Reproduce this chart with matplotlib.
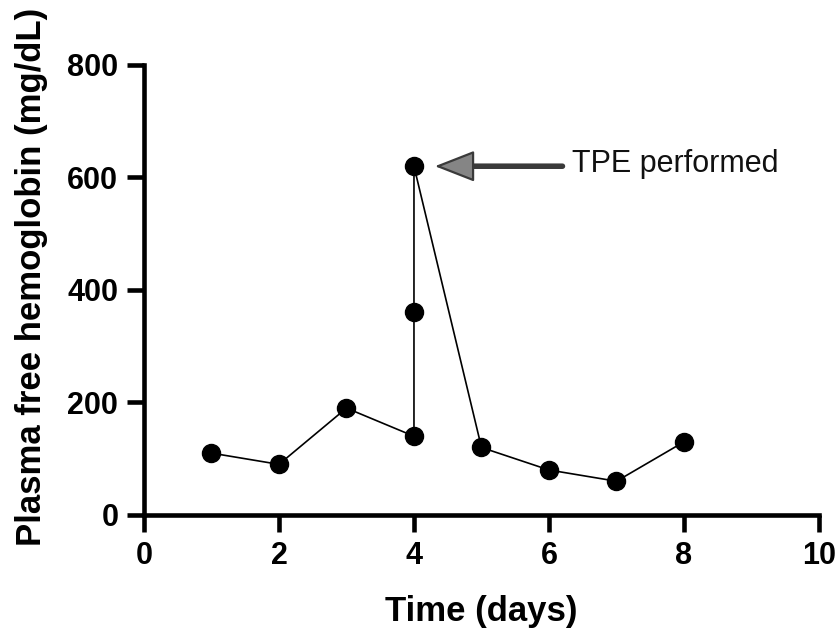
import numpy as np
import matplotlib
matplotlib.use('Agg')
import matplotlib.pyplot as plt

plt.rcParams['font.family'] = ['Liberation Sans', 'DejaVu Sans']

# dias y hemoglobina libre en plasma (mg/dL)
dias = [1, 2, 3, 4, 4, 4, 5, 6, 7, 8]
hb = [110, 90, 190, 140, 360, 620, 120, 80, 60, 130]

x_ticks = [0, 2, 4, 6, 8, 10]
y_ticks = [0, 200, 400, 600, 800]

fig = plt.figure(figsize=(8.38, 6.35), dpi=100)
ax = fig.add_axes([0.1718, 0.189, 0.8055, 0.7087])

ax.plot(dias, hb, color='black', lw=1.2, marker='o', ms=13, mfc='black', mec='black', clip_on=False)

# flecha TPE: cuerpo oscuro + punta gris
ax.annotate('', xy=(4.65, 620), xytext=(6.2, 620),
            arrowprops=dict(arrowstyle='-', color='#3a3a3a', lw=4, shrinkA=0, shrinkB=0))
ax.annotate('', xy=(4.31, 620), xytext=(4.75, 620),
            arrowprops=dict(arrowstyle='-|>,head_width=0.45,head_length=1.15',
                            fc='#858585', ec='#3a3a3a', lw=1.6, shrinkA=0, shrinkB=0,
                            mutation_scale=22))
ax.text(6.34, 610, 'TPE performed', fontsize=22, va='baseline', ha='left', color='#111111')

ax.set_xlim(0, 10)
ax.set_ylim(0, 800)
ax.set_xticks(x_ticks)
ax.set_yticks(y_ticks)
ax.spines['top'].set_visible(False)
ax.spines['right'].set_visible(False)
ax.spines['left'].set_linewidth(3.3)
ax.spines['bottom'].set_linewidth(3.3)
ax.tick_params(width=3.3, length=12.5, labelsize=22, pad=6)
for lbl in ax.get_xticklabels() + ax.get_yticklabels():
    lbl.set_fontweight('bold')

ax.set_xlabel('Time (days)', fontsize=25, fontweight='bold')
ax.set_ylabel('Plasma free hemoglobin (mg/dL)', fontsize=25, fontweight='bold')
ax.xaxis.set_label_coords(0.5, -0.178)
ax.yaxis.set_label_coords(-0.142, 0.529)

fig.savefig('out.png', dpi=100)
